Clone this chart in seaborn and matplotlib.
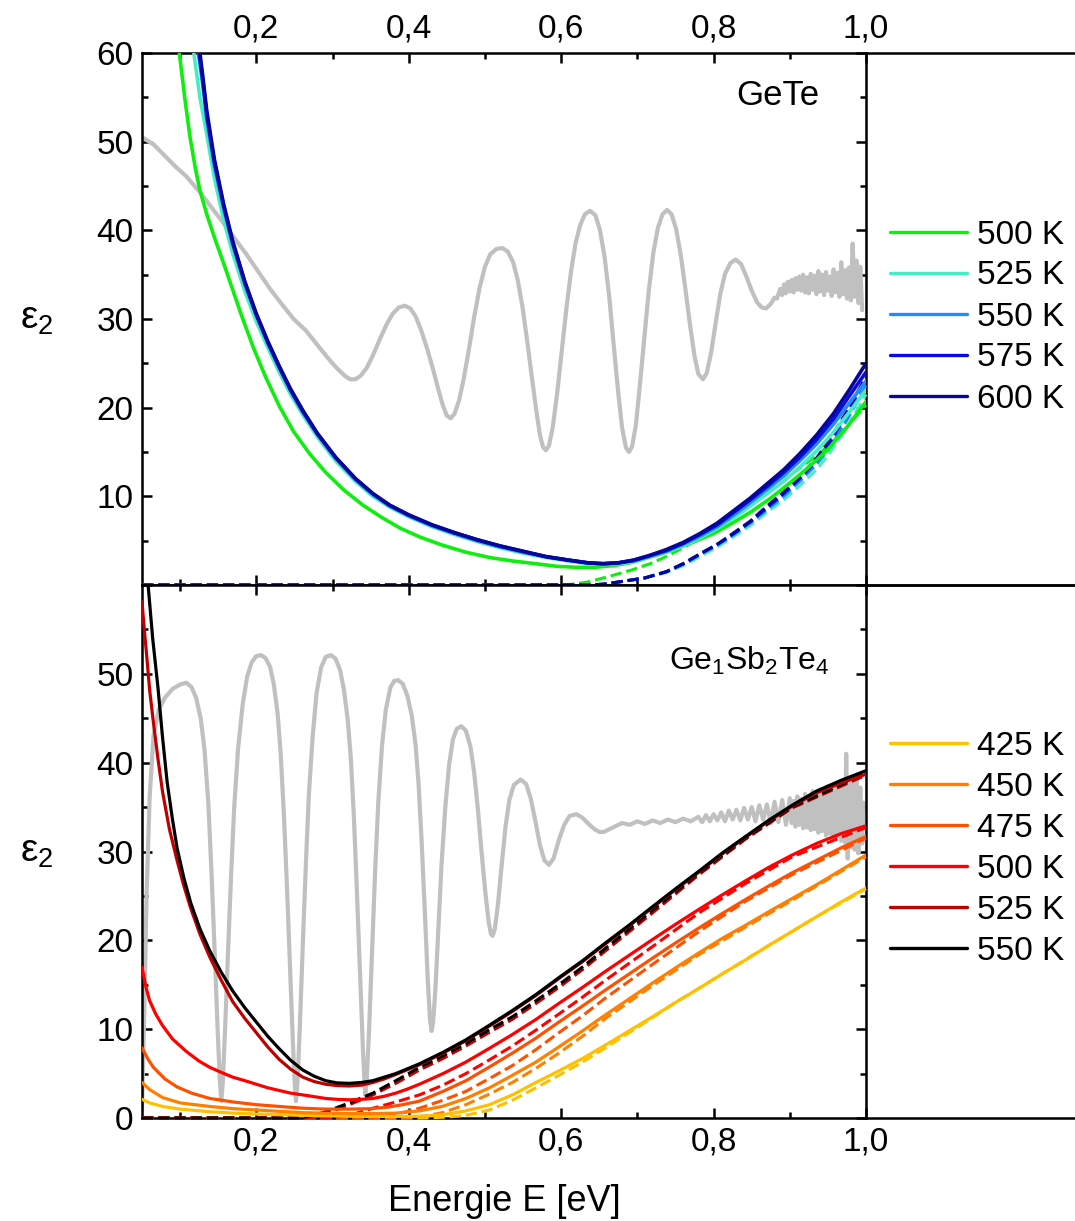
import matplotlib
matplotlib.use("Agg")
import matplotlib.pyplot as plt
import seaborn as sns
from matplotlib.ticker import MultipleLocator, FuncFormatter

# ---------------- data ----------------
# GeTe panel -- grey measured curve
gete_gray_e = [0.050, 0.065, 0.080, 0.095, 0.108, 0.126, 0.157, 0.187, 0.218, 0.235, 0.249,
               0.265, 0.279, 0.292, 0.304, 0.316, 0.323, 0.330, 0.337, 0.345, 0.353, 0.362,
               0.371, 0.379, 0.387, 0.395, 0.402, 0.409, 0.416, 0.424, 0.432, 0.439, 0.445,
               0.450, 0.455, 0.460, 0.466, 0.472, 0.479, 0.486, 0.493, 0.500, 0.507, 0.515,
               0.523, 0.530, 0.537, 0.543, 0.549, 0.555, 0.561, 0.567, 0.572, 0.576, 0.580,
               0.584, 0.589, 0.595, 0.601, 0.607, 0.613, 0.619, 0.625, 0.631, 0.638, 0.645,
               0.651, 0.657, 0.663, 0.669, 0.675, 0.680, 0.685, 0.689, 0.693, 0.698, 0.703,
               0.709, 0.715, 0.721, 0.727, 0.733, 0.739, 0.745, 0.751, 0.757, 0.763, 0.769,
               0.775, 0.780, 0.786, 0.791, 0.797, 0.803, 0.809, 0.815, 0.822, 0.829, 0.836,
               0.843, 0.850, 0.857, 0.863, 0.869, 0.875, 0.880,
               0.883, 0.8875, 0.890, 0.8925, 0.895, 0.8975, 0.900, 0.9025, 0.905,
               0.9075, 0.910, 0.9125, 0.915, 0.9175, 0.920, 0.9225, 0.925, 0.9275, 0.930, 0.9325,
               0.935, 0.9375, 0.940, 0.9425, 0.945, 0.9475, 0.950, 0.9525, 0.955, 0.9575, 0.960,
               0.9625, 0.965, 0.9675, 0.970, 0.9725, 0.975, 0.9775, 0.980, 0.9825, 0.985, 0.9875,
               0.990, 0.9925, 0.995]
gete_gray_v = [50.5, 49.7, 48.4, 47.1, 46.1, 44.3, 40.8, 37.3, 33.4, 31.5, 30.0,
               28.7, 27.2, 25.8, 24.6, 23.6, 23.2, 23.2, 23.6, 24.5, 25.9, 27.7,
               29.4, 30.6, 31.3, 31.5, 31.2, 30.3, 28.8, 26.7, 24.3, 22.0, 20.2,
               19.1, 18.8, 19.3, 20.8, 23.2, 26.6, 30.3, 33.5, 35.9, 37.3, 37.9,
               38.0, 37.6, 36.4, 34.4, 31.5, 27.8, 23.8, 19.9, 17.0, 15.6, 15.2,
               15.7, 17.8, 21.8, 26.6, 31.3, 35.4, 38.6, 40.6, 41.8, 42.2, 41.7,
               40.0, 37.0, 32.6, 27.0, 21.6, 17.7, 15.5, 15.0, 15.6, 18.0, 22.3,
               27.8, 33.2, 37.5, 40.3, 41.8, 42.3, 41.8, 40.1, 37.2, 33.4, 29.4,
               25.8, 23.8, 23.2, 23.9, 26.3, 29.7, 32.9, 35.1, 36.3, 36.7, 36.2,
               34.8, 33.2, 31.9, 31.3, 31.2, 31.7, 32.4,
               32.3, 33.4, 32.7, 33.9, 32.9, 34.2, 33.1, 34.4, 33.0,
               34.6, 33.3, 34.8, 33.2, 35.0, 33.0, 34.7, 32.9, 35.1, 33.3, 34.9,
               32.8, 35.4, 33.1, 35.0, 32.7, 35.3, 33.2, 34.8, 32.6, 35.6, 33.0,
               35.2, 32.5, 36.4, 32.8, 35.5, 32.3, 35.8, 32.1, 38.5, 32.5, 36.6,
               31.8, 35.9, 31.0]

gete_labels = ["500 K", "525 K", "550 K", "575 K", "600 K"]
gete_colors = ["#10EE10", "#44EEC0", "#1E8CFF", "#0A0AE6", "#06069A"]

gete_grid = [0.135, 0.145, 0.157, 0.169, 0.185, 0.200, 0.215, 0.230, 0.245, 0.261, 0.280,
             0.304, 0.330, 0.353, 0.375, 0.400, 0.430, 0.460, 0.490, 0.520, 0.550, 0.580,
             0.610, 0.635, 0.655, 0.675, 0.695, 0.715, 0.738, 0.760, 0.782, 0.805, 0.825,
             0.848, 0.870, 0.892, 0.913, 0.935, 0.957, 0.978, 1.000]
gete_solid_e = {
    "500 K": [0.094, 0.099, 0.106, 0.113, 0.120, 0.126, 0.135, 0.145, 0.157, 0.169, 0.181,
              0.196, 0.212, 0.230, 0.249, 0.270, 0.291, 0.315, 0.340, 0.365, 0.389, 0.415,
              0.444, 0.475, 0.506, 0.537, 0.567, 0.595, 0.620, 0.645, 0.670, 0.690, 0.710,
              0.730, 0.750, 0.775, 0.800, 0.825, 0.850, 0.875, 0.900, 0.925, 0.950, 0.975, 1.000],
    "525 K": [0.113, 0.118, 0.126] + gete_grid,
    "550 K": [0.119, 0.124, 0.130] + gete_grid,
    "575 K": [0.120, 0.125, 0.130] + gete_grid,
    "600 K": [0.121, 0.126, 0.130] + gete_grid,
}
gete_solid_v = {
    "500 K": [64.0, 60.0, 55.0, 50.5, 47.0, 44.5, 41.8, 39.2, 36.3, 33.3, 30.3,
              26.8, 23.5, 20.2, 17.3, 14.8, 12.7, 10.7, 9.0, 7.6, 6.4, 5.4,
              4.5, 3.7, 3.1, 2.7, 2.4, 2.1, 2.0, 2.0, 2.2, 2.5, 3.0,
              3.5, 4.1, 4.9, 5.8, 7.0, 8.3, 9.8, 11.5, 13.3, 15.3, 17.8, 20.7],
    "525 K": [64.0, 60.0, 55.0, 50.8, 45.9, 41.2, 37.4, 33.1, 29.7, 26.8, 24.0, 21.5, 19.2, 16.7,
              14.0, 11.7, 10.0, 8.8, 7.7, 6.6, 5.7, 4.9, 4.2, 3.6, 3.1,
              2.7, 2.4, 2.3, 2.4, 2.6, 3.1, 3.7, 4.4, 5.3, 6.4, 7.5,
              8.9, 10.3, 11.7, 13.3, 15.1, 17.2, 19.5, 22.0],
    "550 K": [64.0, 60.0, 56.2, 52.5, 47.3, 42.5, 38.4, 33.9, 30.4, 27.3, 24.5, 21.9, 19.5, 17.0,
              14.3, 11.9, 10.2, 8.9, 7.8, 6.7, 5.8, 5.0, 4.3, 3.7, 3.2,
              2.8, 2.5, 2.4, 2.5, 2.7, 3.2, 3.8, 4.6, 5.5, 6.6, 7.8,
              9.3, 10.8, 12.3, 14.0, 15.9, 18.1, 20.5, 23.0],
    "575 K": [64.0, 60.0, 56.8, 53.0, 47.7, 42.8, 38.6, 34.1, 30.5, 27.4, 24.6, 22.0, 19.6, 17.1,
              14.4, 12.0, 10.3, 9.0, 7.9, 6.8, 5.9, 5.1, 4.4, 3.8, 3.2,
              2.8, 2.5, 2.4, 2.5, 2.8, 3.3, 3.9, 4.7, 5.7, 6.8, 8.1,
              9.6, 11.1, 12.7, 14.4, 16.4, 18.7, 21.3, 24.0],
    "600 K": [64.0, 60.0, 57.2, 53.5, 48.0, 43.0, 38.8, 34.2, 30.6, 27.5, 24.7, 22.1, 19.7, 17.1,
              14.4, 12.0, 10.3, 9.0, 7.9, 6.8, 5.9, 5.1, 4.4, 3.8, 3.2,
              2.8, 2.5, 2.4, 2.5, 2.8, 3.3, 4.0, 4.8, 5.8, 7.0, 8.3,
              9.8, 11.4, 13.0, 14.8, 16.9, 19.3, 22.0, 25.0],
}
gete_dash_e = {
    "500 K": [0.05, 0.600, 0.615, 0.633, 0.660, 0.693, 0.720, 0.740, 0.760, 0.782, 0.805, 0.830,
              0.850, 0.870, 0.890, 0.910, 0.939, 0.970, 1.000],
    "525 K": [0.05, 0.635, 0.655, 0.680, 0.710, 0.738, 0.760, 0.782, 0.805, 0.825, 0.848, 0.870,
              0.892, 0.913, 0.935, 0.950, 0.975, 1.000],
    "550 K": [0.05, 0.638, 0.655, 0.680, 0.710, 0.738, 0.760, 0.782, 0.805, 0.825, 0.848, 0.870,
              0.892, 0.913, 0.935, 0.950, 0.975, 1.000],
    "575 K": [0.05, 0.640, 0.657, 0.680, 0.710, 0.738, 0.760, 0.782, 0.805, 0.825, 0.848, 0.870,
              0.892, 0.913, 0.935, 0.950, 0.975, 1.000],
    "600 K": [0.05, 0.640, 0.657, 0.680, 0.710, 0.738, 0.760, 0.782, 0.805, 0.825, 0.848, 0.870,
              0.892, 0.913, 0.935, 0.950, 0.975, 1.000],
}
gete_dash_v = {
    "500 K": [0.0, 0.0, 0.1, 0.3, 0.9, 1.7, 2.5, 3.3, 4.2, 5.3, 6.6, 8.0,
              9.2, 10.4, 11.6, 13.0, 14.8, 17.3, 20.3],
    "525 K": [0.0, 0.0, 0.1, 0.4, 0.8, 1.4, 2.2, 3.2, 4.3, 5.4, 6.7, 8.2,
              9.6, 11.2, 13.0, 14.6, 17.8, 21.5],
    "550 K": [0.0, 0.0, 0.1, 0.4, 0.8, 1.5, 2.3, 3.4, 4.5, 5.6, 7.0, 8.5,
              10.0, 11.7, 13.6, 15.2, 18.6, 22.5],
    "575 K": [0.0, 0.0, 0.1, 0.4, 0.8, 1.5, 2.4, 3.5, 4.6, 5.7, 7.1, 8.7,
              10.3, 12.0, 14.0, 15.7, 19.3, 23.3],
    "600 K": [0.0, 0.0, 0.1, 0.4, 0.8, 1.5, 2.4, 3.5, 4.6, 5.8, 7.2, 8.9,
              10.5, 12.2, 14.3, 16.1, 19.6, 23.5],
}

# Ge1Sb2Te4 panel -- grey measured curve
gst_gray_e = [0.050, 0.053, 0.056, 0.060, 0.065, 0.072, 0.080, 0.090, 0.100, 0.108, 0.115,
              0.121, 0.127, 0.132, 0.137, 0.141, 0.145, 0.149, 0.152, 0.154, 0.156, 0.159,
              0.163, 0.167, 0.171, 0.176, 0.182, 0.188, 0.194, 0.200, 0.206, 0.212, 0.218,
              0.223, 0.228, 0.232, 0.236, 0.240, 0.244, 0.248, 0.250, 0.252, 0.254, 0.257,
              0.261, 0.265, 0.269, 0.274, 0.279, 0.285, 0.291, 0.298, 0.304, 0.310, 0.315,
              0.320, 0.324, 0.328, 0.332, 0.336, 0.340, 0.342, 0.343, 0.345, 0.348, 0.352,
              0.356, 0.360, 0.365, 0.370, 0.376, 0.381, 0.386, 0.392, 0.398, 0.404, 0.409,
              0.413, 0.417, 0.421, 0.425, 0.428, 0.430, 0.432, 0.435, 0.439, 0.443, 0.448,
              0.453, 0.458, 0.463, 0.469, 0.475, 0.481, 0.486, 0.491, 0.496, 0.501, 0.505,
              0.508, 0.510, 0.513, 0.517, 0.522, 0.527, 0.532, 0.538, 0.547, 0.554, 0.560,
              0.566, 0.572, 0.578, 0.584, 0.590, 0.597, 0.604, 0.611, 0.620, 0.628, 0.636,
              0.644, 0.650, 0.656, 0.663,
              0.670, 0.680, 0.690, 0.700, 0.710, 0.720, 0.730, 0.740, 0.750, 0.760, 0.770, 0.780,
              0.785, 0.790, 0.795, 0.800, 0.805, 0.810, 0.815, 0.820, 0.825, 0.830, 0.835, 0.840,
              0.845, 0.850, 0.855, 0.860, 0.865, 0.870, 0.875, 0.880, 0.885, 0.890, 0.895, 0.900,
              0.9025, 0.905, 0.9075, 0.910, 0.9125, 0.915, 0.9175, 0.920, 0.9225, 0.925, 0.9275,
              0.930, 0.9325, 0.935, 0.9375, 0.940, 0.9425, 0.945, 0.9475, 0.950, 0.9525, 0.955,
              0.9575, 0.960, 0.9625, 0.965, 0.9675, 0.970, 0.9725, 0.974, 0.976, 0.978, 0.980,
              0.9825, 0.985, 0.9875, 0.990, 0.9925, 0.995, 0.997]
gst_gray_v = [1.0, 12.0, 25.1, 36.0, 43.0, 46.0, 47.3, 48.3, 48.8, 49.0, 48.5,
              47.3, 45.0, 41.5, 35.5, 28.0, 19.5, 10.5, 4.5, 1.9, 4.0, 10.0,
              19.0, 27.5, 35.0, 41.5, 46.5, 49.7, 51.3, 52.0, 52.1, 51.8, 50.8,
              48.8, 45.5, 41.0, 34.5, 26.5, 17.5, 8.5, 4.5, 1.9, 4.0, 10.0,
              19.5, 28.5, 36.5, 43.0, 47.8, 50.7, 51.9, 52.1, 51.7, 50.4, 48.2,
              44.8, 40.5, 34.0, 25.5, 16.5, 7.5, 4.0, 2.6, 4.5, 10.0, 19.0,
              28.0, 35.5, 42.0, 46.0, 48.5, 49.2, 49.3, 48.9, 47.6, 45.3, 42.0,
              37.5, 31.0, 23.5, 15.5, 11.0, 9.8, 10.8, 14.5, 21.5, 28.5, 35.0,
              39.8, 42.6, 43.8, 44.1, 43.6, 41.8, 38.8, 34.5, 29.5, 25.0, 22.0,
              20.7, 20.5, 21.3, 24.0, 28.5, 32.8, 35.8, 37.5, 38.1, 37.6, 36.0,
              33.5, 30.8, 29.0, 28.5, 29.2, 31.3, 33.0, 34.0, 34.2, 33.8, 33.1,
              32.5, 32.2, 32.2, 32.5,
              32.8, 33.2, 33.0, 33.4, 33.1, 33.5, 33.2, 33.6, 33.3, 33.7, 33.4, 33.9,
              33.3, 34.1, 33.4, 34.2, 33.5, 34.4, 33.4, 34.6, 33.6, 34.7, 33.5, 34.9,
              33.6, 35.0, 33.4, 35.2, 33.6, 35.3, 33.2, 35.6, 33.3, 35.8, 33.0, 36.0,
              33.2, 35.7, 32.8, 36.2, 33.0, 35.9, 32.6, 36.5, 32.7, 36.1, 32.4,
              36.8, 32.5, 36.3, 32.1, 37.0, 32.3, 36.6, 31.8, 37.3, 32.0, 36.9,
              31.5, 37.6, 31.7, 37.1, 31.2, 37.9, 31.0, 41.0, 29.2, 38.0, 30.5,
              37.6, 30.2, 38.4, 29.8, 37.2, 30.9, 35.5]

gst_labels = ["425 K", "450 K", "475 K", "500 K", "525 K", "550 K"]
gst_colors = ["#FFC000", "#FF8000", "#FF5000", "#FF0000", "#C00000", "#000000"]

gst_solid_e = {
    "425 K": [0.050, 0.060, 0.077, 0.100, 0.139, 0.170, 0.200, 0.261, 0.322, 0.383, 0.414,
              0.444, 0.475, 0.506, 0.536, 0.567, 0.597, 0.628, 0.658, 0.689, 0.720, 0.750,
              0.781, 0.811, 0.842, 0.872, 0.903, 0.934, 0.967, 1.000],
    "450 K": [0.050, 0.060, 0.077, 0.100, 0.139, 0.170, 0.200, 0.230, 0.261, 0.291, 0.322,
              0.353, 0.383, 0.414, 0.444, 0.475, 0.506, 0.536, 0.567, 0.597, 0.628, 0.658,
              0.689, 0.720, 0.750, 0.781, 0.811, 0.842, 0.872, 0.903, 0.934, 0.967, 1.000],
    "475 K": [0.050, 0.058, 0.065, 0.080, 0.096, 0.115, 0.139, 0.170, 0.200, 0.230, 0.261,
              0.291, 0.322, 0.350, 0.371, 0.392, 0.414, 0.445, 0.475, 0.505, 0.536, 0.567,
              0.597, 0.628, 0.658, 0.689, 0.720, 0.750, 0.781, 0.811, 0.842, 0.872, 0.903,
              0.935, 0.967, 1.000],
    "500 K": [0.050, 0.055, 0.060, 0.068, 0.077, 0.090, 0.108, 0.125, 0.139, 0.155, 0.169,
              0.185, 0.200, 0.215, 0.230, 0.245, 0.261, 0.276, 0.291, 0.306, 0.322, 0.338,
              0.353, 0.368, 0.383, 0.398, 0.414, 0.445, 0.475, 0.505, 0.536, 0.567, 0.597,
              0.628, 0.658, 0.689, 0.720, 0.750, 0.781, 0.811, 0.842, 0.872, 0.903, 0.935,
              0.967, 1.000],
    "525 K": [0.050, 0.053, 0.056, 0.060, 0.065, 0.071, 0.077, 0.086, 0.096, 0.105, 0.114,
              0.126, 0.139, 0.154, 0.169, 0.185, 0.200, 0.215, 0.230, 0.245, 0.261, 0.276,
              0.291, 0.306, 0.322, 0.338, 0.353, 0.368, 0.383, 0.400, 0.414, 0.445, 0.475,
              0.505, 0.536, 0.567, 0.597, 0.628, 0.658, 0.689, 0.720, 0.750, 0.781, 0.811,
              0.842, 0.872, 0.903, 0.935, 0.967, 1.000],
    "550 K": [0.055, 0.058, 0.064, 0.071, 0.077, 0.083, 0.090, 0.096, 0.105, 0.114, 0.126,
              0.139, 0.154, 0.169, 0.185, 0.200, 0.215, 0.230, 0.245, 0.261, 0.276, 0.291,
              0.306, 0.322, 0.338, 0.353, 0.368, 0.383, 0.400, 0.414, 0.445, 0.475, 0.505,
              0.536, 0.567, 0.597, 0.628, 0.658, 0.689, 0.720, 0.750, 0.781, 0.811, 0.842,
              0.872, 0.903, 0.935, 0.967, 1.000],
}
gst_solid_v = {
    "425 K": [2.1, 1.7, 1.3, 1.0, 0.7, 0.55, 0.45, 0.3, 0.2, 0.15, 0.2,
              0.35, 0.8, 1.5, 2.6, 4.0, 5.3, 6.7, 8.2, 9.8, 11.4, 13.0,
              14.6, 16.2, 17.8, 19.4, 21.0, 22.6, 24.3, 25.9],
    "450 K": [4.0, 3.2, 2.3, 1.7, 1.3, 1.05, 0.9, 0.75, 0.6, 0.55, 0.5,
              0.5, 0.55, 0.8, 1.3, 2.2, 3.4, 4.8, 6.3, 8.0, 9.8, 11.6,
              13.4, 15.2, 16.9, 18.6, 20.2, 21.7, 23.2, 24.7, 26.2, 27.9, 29.6],
    "475 K": [7.9, 6.6, 5.7, 4.4, 3.5, 2.8, 2.2, 1.8, 1.5, 1.3, 1.1,
              1.0, 1.0, 1.05, 1.2, 1.5, 1.9, 3.0, 4.2, 5.7, 7.3, 9.0,
              10.8, 12.6, 14.4, 16.2, 18.0, 19.7, 21.4, 23.0, 24.6, 26.1, 27.6,
              29.0, 30.4, 31.7],
    "500 K": [17.0, 14.8, 13.2, 11.7, 10.4, 8.9, 7.5, 6.4, 5.7, 5.1, 4.6,
              4.2, 3.8, 3.4, 3.1, 2.8, 2.6, 2.4, 2.2, 2.1, 2.05, 2.1,
              2.2, 2.45, 2.8, 3.25, 3.8, 5.0, 6.3, 7.8, 9.4, 11.1, 12.9,
              14.7, 16.5, 18.3, 20.1, 21.8, 23.5, 25.1, 26.7, 28.2, 29.6, 30.9,
              32.0, 32.9],
    "525 K": [58.1, 55.0, 52.2, 48.2, 44.5, 40.4, 36.7, 32.5, 29.0, 26.1, 23.6,
              20.7, 18.1, 15.5, 13.1, 11.2, 9.6, 8.0, 6.6, 5.5, 4.6, 4.1,
              3.8, 3.65, 3.6, 3.7, 4.0, 4.4, 4.9, 5.5, 6.0, 7.3, 8.7,
              10.3, 12.0, 13.8, 15.7, 17.6, 19.6, 21.6, 23.7, 25.7, 27.7, 29.7,
              31.6, 33.4, 35.1, 36.6, 37.7, 38.7],
    "550 K": [66.0, 60.0, 54.0, 48.4, 42.8, 37.8, 33.6, 30.4, 27.0, 24.2, 21.3,
              18.8, 16.4, 14.3, 12.4, 10.8, 9.2, 7.8, 6.5, 5.4, 4.7, 4.2,
              3.95, 3.9, 4.0, 4.2, 4.6, 5.0, 5.6, 6.1, 7.4, 8.8, 10.4,
              12.1, 13.9, 15.8, 17.7, 19.7, 21.7, 23.8, 25.8, 27.8, 29.8, 31.7,
              33.5, 35.2, 36.8, 38.0, 39.1],
}
gst_dash_e = {
    "425 K": [0.05, 0.420, 0.450, 0.475, 0.506, 0.536, 0.567, 0.597, 0.628, 0.658, 0.689,
              0.720, 0.750, 0.811, 0.872, 0.934, 1.000],
    "450 K": [0.05, 0.390, 0.420, 0.444, 0.475, 0.506, 0.536, 0.567, 0.597, 0.628, 0.658,
              0.720, 0.781, 0.842, 0.903, 1.000],
    "475 K": [0.05, 0.350, 0.383, 0.414, 0.445, 0.475, 0.505, 0.536, 0.567, 0.597, 0.628,
              0.658, 0.720, 0.781, 0.842, 0.903, 1.000],
    "500 K": [0.05, 0.300, 0.330, 0.353, 0.383, 0.414, 0.445, 0.475, 0.505, 0.536, 0.567,
              0.597, 0.628, 0.658, 0.720, 0.781, 0.842, 0.903, 1.000],
    "525 K": [0.05, 0.262, 0.291, 0.322, 0.353, 0.383, 0.414, 0.445, 0.475, 0.505, 0.536,
              0.567, 0.597, 0.628, 0.658, 0.720, 0.781, 0.842, 0.903, 1.000],
    "550 K": [0.05, 0.255, 0.275, 0.291, 0.322, 0.353, 0.383, 0.414, 0.445, 0.475, 0.505,
              0.536, 0.567, 0.597, 0.628, 0.658, 0.720, 0.781, 0.842, 0.903, 1.000],
}
gst_dash_v = {
    "425 K": [0.0, 0.0, 0.1, 0.3, 0.9, 2.0, 3.4, 4.8, 6.3, 7.9, 9.6,
              11.3, 13.0, 16.2, 19.4, 22.6, 25.8],
    "450 K": [0.0, 0.0, 0.2, 0.6, 1.5, 2.7, 4.0, 5.6, 7.3, 9.2, 11.2,
              14.9, 18.4, 21.5, 24.5, 29.4],
    "475 K": [0.0, 0.0, 0.4, 1.1, 2.0, 3.0, 4.4, 5.9, 7.7, 9.6, 11.5,
              13.5, 17.3, 21.0, 24.4, 27.4, 31.5],
    "500 K": [0.0, 0.0, 0.5, 1.1, 1.8, 2.6, 3.7, 5.0, 6.5, 8.1, 9.9,
              11.7, 13.6, 15.5, 19.3, 23.1, 26.4, 29.4, 32.7],
    "525 K": [0.0, 0.0, 0.5, 1.5, 2.6, 3.9, 5.4, 6.7, 8.1, 9.6, 11.1,
              12.9, 14.7, 16.7, 18.8, 23.1, 27.4, 31.4, 34.9, 38.6],
    "550 K": [0.0, 0.0, 0.3, 0.7, 1.7, 2.8, 4.2, 5.7, 7.0, 8.4, 9.9,
              11.4, 13.2, 15.0, 17.0, 19.1, 23.4, 27.6, 31.5, 35.0, 38.8],
}

x_label = "Energie E [eV]"
y_label = "ε$_2$"
panel_titles = ["GeTe", "Ge$_1$Sb$_2$Te$_4$"]

# ---------------- style ----------------
sns.set_style("ticks")
plt.rcParams["font.family"] = ["Liberation Sans", "DejaVu Sans"]
plt.rcParams["mathtext.fontset"] = "custom"
plt.rcParams["mathtext.rm"] = "Liberation Sans"
plt.rcParams["mathtext.it"] = "Liberation Sans"
plt.rcParams["mathtext.default"] = "regular"
for k in ["text.color", "axes.labelcolor", "xtick.color", "ytick.color", "axes.edgecolor"]:
    plt.rcParams[k] = "black"

FS = 24
GRAY = "#C0C0C0"

fig = plt.figure(figsize=(10.75, 12.21), dpi=100)
L, W = 142 / 1075, (866 - 142) / 1075
ax1 = fig.add_axes([L, 1 - 585 / 1221, W, (585 - 53) / 1221])
ax2 = fig.add_axes([L, 1 - 1118 / 1221, W, (1118 - 585) / 1221])
lax1 = fig.add_axes([866 / 1075, 1 - 585 / 1221, 0.25, (585 - 53) / 1221])
lax2 = fig.add_axes([866 / 1075, 1 - 1118 / 1221, 0.25, (1118 - 585) / 1221])

comma = FuncFormatter(lambda v, p: f"{v:.1f}".replace(".", ","))


def draw_panel(ax, gray_e, gray_v, labels, colors, se, sv, de, dv, lw):
    sns.lineplot(x=gray_e, y=gray_v, ax=ax, color=GRAY, linewidth=3.0, sort=False,
                 legend=False, zorder=1)
    for lab, col in zip(labels, colors):
        sns.lineplot(x=de[lab], y=dv[lab], ax=ax, color=col, linewidth=2.2, linestyle="--",
                     sort=False, legend=False, clip_on=False, zorder=3)
    handles = []
    for lab, col in zip(labels, colors):
        sns.lineplot(x=se[lab], y=sv[lab], ax=ax, color=col, linewidth=lw, sort=False,
                     legend=False, zorder=4)
        handles.append(ax.lines[-1])
    return handles


h1 = draw_panel(ax1, gete_gray_e, gete_gray_v, gete_labels, gete_colors,
                gete_solid_e, gete_solid_v, gete_dash_e, gete_dash_v, 2.6)
h2 = draw_panel(ax2, gst_gray_e, gst_gray_v, gst_labels, gst_colors,
                gst_solid_e, gst_solid_v, gst_dash_e, gst_dash_v, 2.3)

for i, ax in enumerate([ax1, ax2]):
    ax.set_xlim(0.05, 1.0)
    ax.set_ylim(0, 60)
    ax.xaxis.set_major_locator(MultipleLocator(0.2))
    ax.xaxis.set_minor_locator(MultipleLocator(0.1))
    ax.yaxis.set_major_locator(MultipleLocator(10))
    ax.yaxis.set_minor_locator(MultipleLocator(5))
    ax.xaxis.set_major_formatter(comma)
    for s in ax.spines.values():
        s.set_linewidth(1.8)
        s.set_color("black")
    ax.tick_params(which="both", direction="in", top=True, bottom=True, left=True, right=True,
                   width=1.8, colors="black", labelsize=FS)
    ax.tick_params(which="major", length=7, pad=6)
    ax.tick_params(which="minor", length=4)
    ax.set_ylabel(y_label, fontsize=28, rotation=0, ha="center", va="center")
    ax.yaxis.set_label_coords(-0.146, 0.5)
    ax.set_xlabel("")

ax1.tick_params(axis="x", labeltop=True, labelbottom=False)
ax1.yaxis.set_major_formatter(FuncFormatter(lambda v, p: "" if v == 0 else f"{v:.0f}"))
ax2.yaxis.set_major_formatter(FuncFormatter(lambda v, p: "" if v >= 60 else f"{v:.0f}"))
ax2.set_xlabel(x_label, fontsize=26, labelpad=19)

ax1.text(0.884, 55.2, panel_titles[0], fontsize=25, ha="center", va="center")
ax2.text(0.847, 51.4, panel_titles[1], fontsize=23, ha="center", va="center")

for lax, hs, labs, yc in [(lax1, h1, gete_labels, 317), (lax2, h2, gst_labels, 849)]:
    lax.set_xticks([])
    lax.set_yticks([])
    lax.set_facecolor("none")
    for side in ["left", "right"]:
        lax.spines[side].set_visible(False)
    for side in ["top", "bottom"]:
        lax.spines[side].set_linewidth(1.8)
        lax.spines[side].set_color("black")
    leg = lax.legend(hs, labs, loc="center left", bbox_to_anchor=(890 / 1075, 1 - yc / 1221),
                     bbox_transform=fig.transFigure, frameon=False, fontsize=FS,
                     handlelength=2.3, handletextpad=0.3, labelspacing=0.3,
                     borderpad=0, borderaxespad=0)
    for ln in leg.get_lines():
        ln.set_linewidth(2.4)

fig.savefig("out.png", dpi=100)
